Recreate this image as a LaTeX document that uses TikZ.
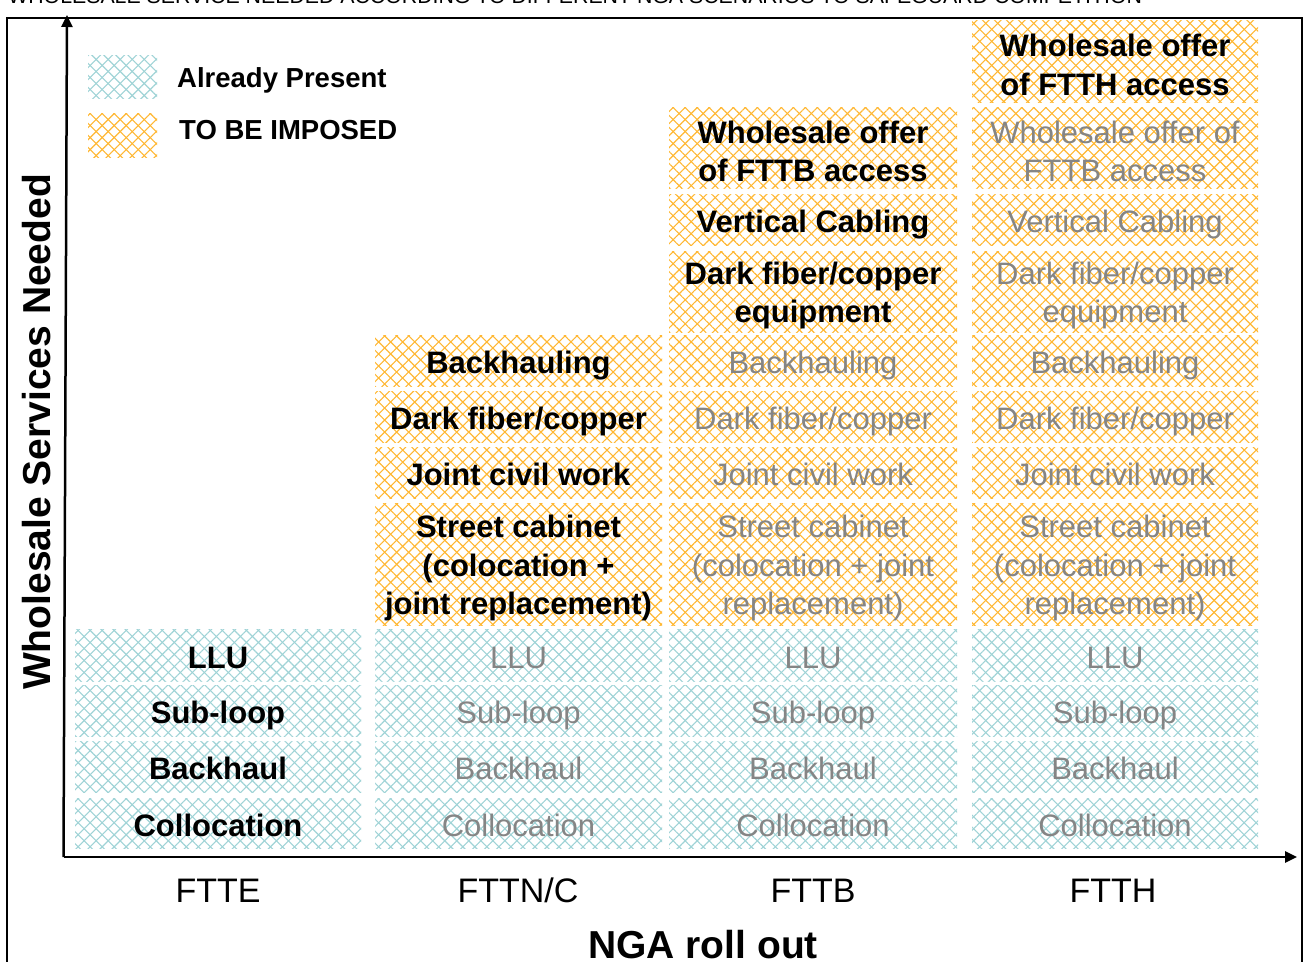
\documentclass[tikz,border=0pt]{standalone}
\usepackage{fontspec}
\setmainfont{Liberation Sans}
\usetikzlibrary{patterns.meta,arrows.meta}
\definecolor{cblue}{HTML}{9FD3D6}
\definecolor{corange}{HTML}{FFB732}
\definecolor{tgray}{HTML}{858585}
\tikzset{
  hatch/.style={pattern={Lines[angle=45,distance=8.5pt,line width=1.1pt]}, pattern color=#1,
    postaction={pattern={Lines[angle=-45,distance=8.5pt,line width=1.1pt]}, pattern color=#1}},
  cellbase/.style={inner sep=0pt, align=center},
  boldtxt/.style={font=\fontsize{31}{38.5}\selectfont\bfseries, text=black},
  graytxt/.style={font=\fontsize{31}{38.5}\selectfont, text=tgray},
  oneln/.style={text height=26pt, text depth=0pt},
  multiln/.style={yshift=-4pt},
  axisline/.style={line width=2.5pt, -{Triangle[length=12pt,width=11pt]}},
  legendtxt/.style={anchor=base west, inner sep=0pt, font=\fontsize{27.5}{27.5}\selectfont\bfseries},
}
% #1 name, #2 x1, #3 y1, #4 x2, #5 y2, #6 colour, #7 text style, #8 text
\newcommand\hcell[8]{%
  \path[hatch=#6] (#2,#3) rectangle (#4,#5);
  \node[cellbase,#7] (#1) at ({(#2+#4)/2},{(#3+#5)/2}) {#8};}
\begin{document}
\begin{tikzpicture}[x=1pt,y=-1pt]
\useasboundingbox (0,0) rectangle (1305,961);
\clip (0,0) rectangle (1305,961);
% clipped title
\node[anchor=base west, inner sep=0pt, font=\fontsize{21.3}{21.3}\selectfont] (title) at (8,4)
  {WHOLESALE SERVICE NEEDED ACCORDING TO DIFFERENT NGA SCENARIOS TO SAFEGUARD COMPETITION};
% frame
\draw[line width=2.5pt] (7,990) -- (7,18) -- (1302,18) -- (1302,990);
% legend
\path[hatch=cblue] (88,55) rectangle (157,98);
\path[hatch=corange] (88,113) rectangle (157,157);
\node[legendtxt] (lgpresent) at (177,87) {Already Present};
\node[legendtxt] (lgimposed) at (179,139) {TO BE IMPOSED};
% ---- column 1: FTTE
\hcell{a1}{75}{629}{361}{681}{cblue}{boldtxt,oneln}{LLU}
\hcell{a2}{75}{685}{361}{736}{cblue}{boldtxt,oneln}{Sub-loop}
\hcell{a3}{75}{741}{361}{792}{cblue}{boldtxt,oneln}{Backhaul}
\hcell{a4}{75}{798}{361}{848}{cblue}{boldtxt,oneln}{Collocation}
% ---- column 2: FTTN/C
\hcell{b1}{375}{629}{662}{681}{cblue}{graytxt,oneln}{LLU}
\hcell{b2}{375}{685}{662}{736}{cblue}{graytxt,oneln}{Sub-loop}
\hcell{b3}{375}{741}{662}{792}{cblue}{graytxt,oneln}{Backhaul}
\hcell{b4}{375}{798}{662}{848}{cblue}{graytxt,oneln}{Collocation}
\hcell{b5}{375}{503}{662}{625}{corange}{boldtxt,multiln}{Street cabinet\\(colocation +\\joint replacement)}
\hcell{b6}{375}{447}{662}{498}{corange}{boldtxt,oneln}{Joint civil work}
\hcell{b7}{375}{391}{662}{442}{corange}{boldtxt,oneln}{Dark fiber/copper}
\hcell{b8}{375}{335}{662}{386}{corange}{boldtxt,oneln}{Backhauling}
% ---- column 3: FTTB
\hcell{c1}{669}{629}{957}{681}{cblue}{graytxt,oneln}{LLU}
\hcell{c2}{669}{685}{957}{736}{cblue}{graytxt,oneln}{Sub-loop}
\hcell{c3}{669}{741}{957}{792}{cblue}{graytxt,oneln}{Backhaul}
\hcell{c4}{669}{798}{957}{848}{cblue}{graytxt,oneln}{Collocation}
\hcell{c5}{669}{503}{957}{625}{corange}{graytxt,multiln}{Street cabinet\\(colocation + joint\\replacement)}
\hcell{c6}{669}{447}{957}{498}{corange}{graytxt,oneln}{Joint civil work}
\hcell{c7}{669}{391}{957}{442}{corange}{graytxt,oneln}{Dark fiber/copper}
\hcell{c8}{669}{335}{957}{386}{corange}{graytxt,oneln}{Backhauling}
\hcell{c9}{669}{251}{957}{332}{corange}{boldtxt,multiln}{Dark fiber/copper\\equipment}
\hcell{c10}{669}{194}{957}{245}{corange}{boldtxt,oneln}{Vertical Cabling}
\hcell{c11}{669}{107}{957}{188}{corange}{boldtxt,multiln}{Wholesale offer\\of FTTB access}
% ---- column 4: FTTH
\hcell{d1}{972}{629}{1258}{681}{cblue}{graytxt,oneln}{LLU}
\hcell{d2}{972}{685}{1258}{736}{cblue}{graytxt,oneln}{Sub-loop}
\hcell{d3}{972}{741}{1258}{792}{cblue}{graytxt,oneln}{Backhaul}
\hcell{d4}{972}{798}{1258}{848}{cblue}{graytxt,oneln}{Collocation}
\hcell{d5}{972}{503}{1258}{625}{corange}{graytxt,multiln}{Street cabinet\\(colocation + joint\\replacement)}
\hcell{d6}{972}{447}{1258}{498}{corange}{graytxt,oneln}{Joint civil work}
\hcell{d7}{972}{391}{1258}{442}{corange}{graytxt,oneln}{Dark fiber/copper}
\hcell{d8}{972}{335}{1258}{386}{corange}{graytxt,oneln}{Backhauling}
\hcell{d9}{972}{251}{1258}{332}{corange}{graytxt,multiln}{Dark fiber/copper\\equipment}
\hcell{d10}{972}{194}{1258}{245}{corange}{graytxt,oneln}{Vertical Cabling}
\hcell{d11}{972}{107}{1258}{188}{corange}{graytxt,multiln}{Wholesale offer of\\FTTB access}
\hcell{d12}{972}{20}{1258}{102}{corange}{boldtxt,multiln}{Wholesale offer\\of FTTH access}
% ---- axes
\coordinate (origin) at (63.5,857);
\coordinate (ytip) at (67,15);
\coordinate (xtip) at (1297,857);
\draw[axisline] (origin) -- (ytip);
\draw[axisline] (origin) -- (xtip);
% axis labels
\node[anchor=base, inner sep=0pt, font=\fontsize{34}{34}\selectfont] (lfte) at (218,902) {FTTE};
\node[anchor=base, inner sep=0pt, font=\fontsize{34}{34}\selectfont] (lftn) at (518,902) {FTTN/C};
\node[anchor=base, inner sep=0pt, font=\fontsize{34}{34}\selectfont] (lftb) at (813,902) {FTTB};
\node[anchor=base, inner sep=0pt, font=\fontsize{34}{34}\selectfont] (lfth) at (1113,902) {FTTH};
\node[anchor=base, inner sep=0pt, font=\fontsize{39}{39}\selectfont\bfseries] (xlabel) at (703,958) {NGA roll out};
\node[rotate=90, inner sep=0pt, font=\fontsize{39}{39}\selectfont\bfseries] (ylabel) at (37,432) {Wholesale Services Needed};
\end{tikzpicture}
\end{document}
